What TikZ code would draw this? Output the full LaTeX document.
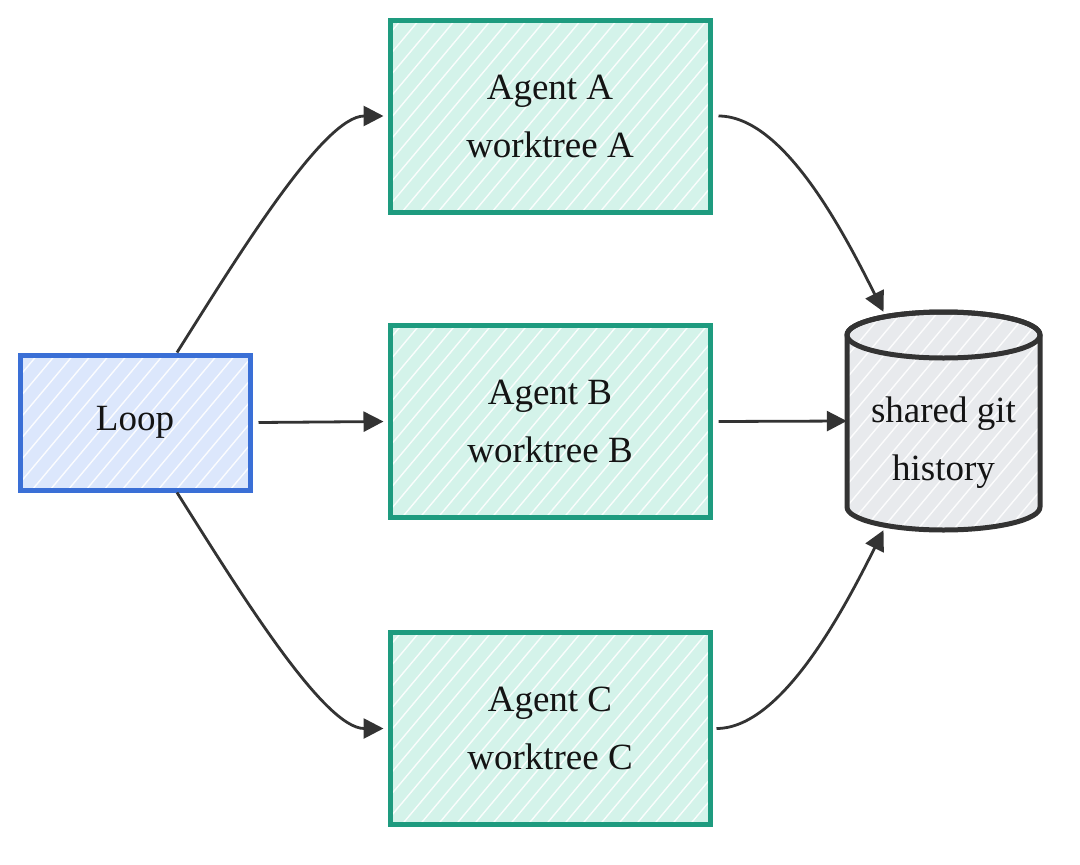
\documentclass[tikz,border=0pt]{standalone}
\usepackage{fontspec}
\setmainfont{Liberation Serif}
\usetikzlibrary{arrows.meta}
\definecolor{agentborder}{HTML}{1E9B7F}
\definecolor{agentfill}{HTML}{D4F3EA}
\definecolor{loopborder}{HTML}{3A6FD6}
\definecolor{loopfill}{HTML}{DCE7FC}
\definecolor{dbfill}{HTML}{E8EAED}
\definecolor{ink}{HTML}{333333}
\begin{document}
\begin{tikzpicture}[x=1pt,y=-1pt,
  hatched/.style={path picture={
    \foreach \i in {0,...,40}
      \draw[white, line width=1.4pt, opacity=0.9]
        ([xshift=\i*18pt-240pt]path picture bounding box.south west) -- ++(240,-286);}},
  agentbox/.style={draw=agentborder, fill=agentfill, line width=5pt, minimum width=320pt,
    minimum height=192pt, inner sep=0pt, hatched},
  loopbox/.style={draw=loopborder, fill=loopfill, line width=5pt, minimum width=230pt,
    minimum height=135pt, inner sep=0pt, hatched},
  lbl/.style={align=center, font=\fontsize{37}{58}\selectfont, text=black!92},
  conn/.style={draw=ink, line width=2.8pt, -{Triangle[length=20pt,width=20pt]}}
]
\useasboundingbox (0,0) rectangle (1080,865);

% boxes
\node[loopbox] (loop) at (135,422.5) {};
\node[lbl] at (loop) {Loop};
\node[agentbox] (a) at (550,116) {};
\node[lbl] at (a) {Agent A\\worktree A};
\node[agentbox] (b) at (550,421.5) {};
\node[lbl] at (b) {Agent B\\worktree B};
\node[agentbox] (c) at (550,728.5) {};
\node[lbl] at (c) {Agent C\\worktree C};

% cylinder
\path[fill=dbfill] (847,335) -- (847,507) arc (180:360:96.5pt and 23pt) -- (1040,335) arc (0:180:96.5pt and 23pt) -- cycle;
\begin{scope}
  \clip (847,335) -- (847,507) arc (180:360:96.5pt and 23pt) -- (1040,335) arc (0:180:96.5pt and 23pt) -- cycle;
  \foreach \i in {0,...,26}
    \draw[white, line width=1.4pt, opacity=0.9] (847-240+\i*18, 535) -- ++(240,-286);
\end{scope}
\draw[ink, line width=5pt, line join=round] (847,335) -- (847,507) arc (180:360:96.5pt and 23pt) -- (1040,335) arc (0:180:96.5pt and 23pt) -- cycle;
\draw[ink, line width=5pt] (943.5,335) ellipse [x radius=96.5pt, y radius=23pt];
\node[minimum width=193pt, minimum height=218pt, inner sep=0pt] (db) at (943.5,421) {};
\node[lbl] (dbl) at (943.5,443) {shared git\\history};

% connectors
\draw[conn] ([xshift=42pt]loop.north) .. controls +(60,-95) and +(-60,0) .. ([xshift=-4pt]a.west);
\draw[conn] ([xshift=6pt]loop.east) -- ([xshift=-4pt]b.west);
\draw[conn] ([xshift=42pt]loop.south) .. controls +(60,95) and +(-60,0) .. ([xshift=-4pt]c.west);
\draw[conn] ([xshift=6pt]a.east) .. controls +(65,0) and +(-40,-80) .. ([xshift=-60pt]db.north);
\draw[conn] ([xshift=6pt]b.east) -- (db.west);
\draw[conn] ([xshift=4pt]c.east) .. controls +(65,0) and +(-40,80) .. ([xshift=-60pt]db.south);
\end{tikzpicture}
\end{document}
